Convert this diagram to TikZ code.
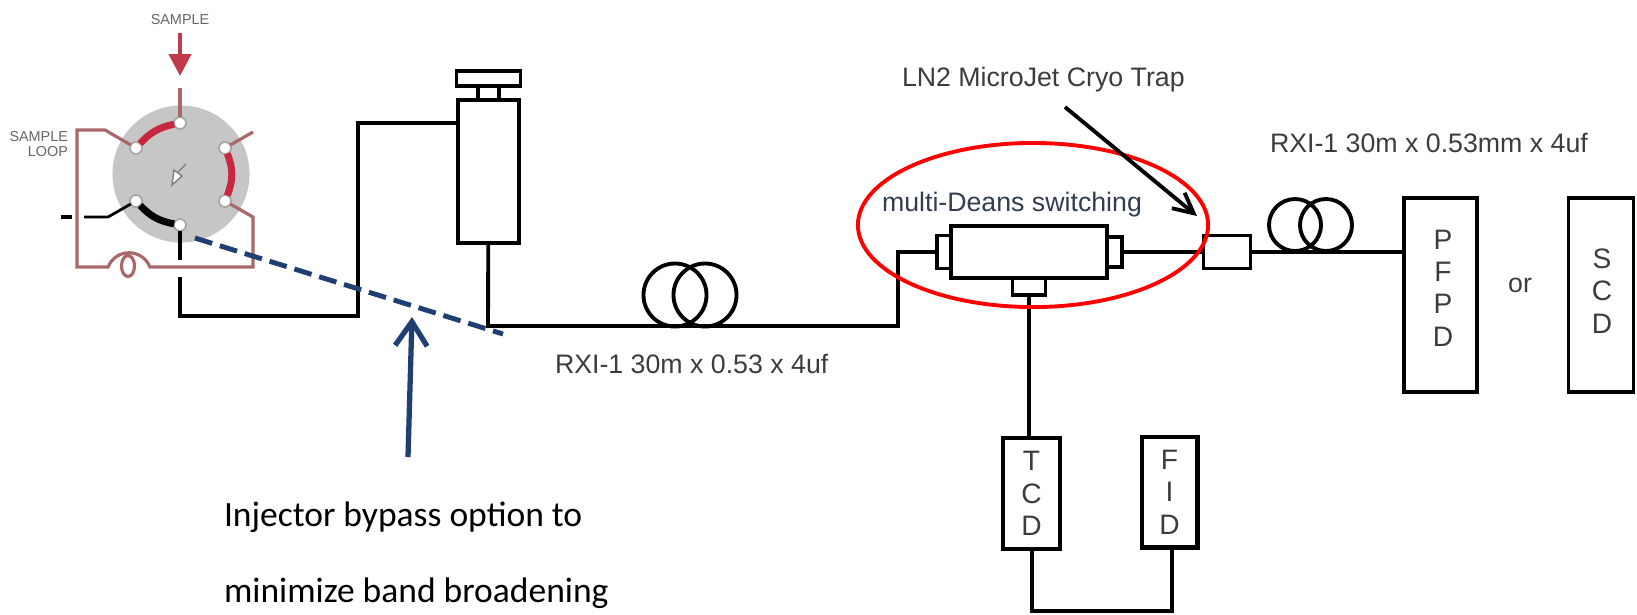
\documentclass[tikz,border=0pt]{standalone}
\usepackage{fontspec}
\setmainfont{Liberation Sans}
\newfontfamily\notefont{Carlito}
\usetikzlibrary{arrows.meta,positioning,shapes.geometric}
\definecolor{loopcolor}{HTML}{A9686A}
\definecolor{samplecolor}{HTML}{C8283F}
\definecolor{bypasscolor}{HTML}{1F3F73}
\definecolor{labelcolor}{HTML}{3C3C3C}
\begin{document}
\begin{tikzpicture}[
  x=0.01cm, y=-0.01cm,
  every node/.style={inner sep=0pt, outer sep=0pt},
  unitbox/.style={rectangle, draw=black, line width=1.1pt, fill=white, align=center},
  detector/.style={unitbox, text=labelcolor, font=\fontsize{8}{9.2}\selectfont},
  coilturn/.style={circle, draw=black, line width=1.1pt, minimum size=0.63cm},
  port/.style={circle, draw=gray!70, fill=white, line width=0.5pt, minimum size=0.12cm},
  label/.style={text=labelcolor, font=\fontsize{7.6}{9}\selectfont, anchor=west},
  tinylabel/.style={text=gray!80!black, font=\fontsize{4.1}{4.3}\selectfont},
  note/.style={font=\notefont\fontsize{10.1}{12}\selectfont, anchor=west},
  tube/.style={line width=1.1pt, black},
  looptube/.style={line width=0.9pt, loopcolor},
  rotor/.style={line width=2pt}
]
\useasboundingbox (0,0) rectangle (1637,614);
% valve
\node[circle, fill=gray!45, minimum size=1.37cm] (valve) at (181,174) {};
\draw[gray, fill=white, line width=0.4pt] (172,185) -- (182,176) -- (174,170) -- cycle;
\draw[gray, line width=0.4pt] (178,172) -- (186,164);
\node[port] (portT) at (180,123) {};
\node[port] (portUL) at (136,148) {};
\node[port] (portUR) at (225,148) {};
\node[port] (portLR) at (225,201) {};
\node[port] (portLL) at (136,201) {};
\node[port] (portB) at (180,225) {};
\draw[rotor, samplecolor] (portUL) to[bend left=18] (portT);
\draw[rotor, samplecolor] (portUR) to[bend left=22] (portLR);
\draw[rotor, black] (portLL) to[bend right=18] (portB);
\node[tinylabel] (sample) at (180,20) {SAMPLE};
\node[tinylabel, align=right, anchor=east] (sampleloop) at (68,144) {SAMPLE\\LOOP};
\coordinate (samplein) at (180,33);
\coordinate (sampletip) at (180,76);
\coordinate (sampleout) at (180,88);
\draw[-{Triangle[length=0.22cm,width=0.22cm]}, line width=1.2pt, samplecolor!70!loopcolor] (samplein) -- (sampletip);
\draw[looptube] (sampleout) -- (portT);
\coordinate (stub) at (253,132);
\draw[looptube] (portUR) -- (stub);
% sample loop
\coordinate (loopA) at (105,130);
\coordinate (loopB) at (77,130);
\coordinate (loopC) at (77,267);
\coordinate (loopD) at (108,267);
\coordinate (loopE) at (150,267);
\coordinate (loopF) at (253,267);
\coordinate (loopG) at (253,217);
\draw[looptube] (portUL) -- (loopA) -- (loopB) -- (loopC) -- (loopD)
  .. controls (116,248) and (142,248) .. (loopE) -- (loopF) -- (loopG) -- (portLR);
\node[ellipse, draw=loopcolor, line width=0.9pt, minimum width=0.13cm, minimum height=0.21cm] (loopcoil) at (128,266) {};
\coordinate (ventA) at (108,217);
\coordinate (ventB) at (84,217);
\coordinate (ventC) at (72,217);
\coordinate (ventD) at (61,217);
\draw[line width=0.8pt, black] (portLL) -- (ventA) -- (ventB);
\draw[tube] (ventC) -- (ventD);
% injector
\node[unitbox, minimum width=0.61cm, minimum height=1.43cm] (injector) at (488.5,171.5) {};
\node[unitbox, minimum width=0.21cm, minimum height=0.14cm, above=0cm of injector] (neck) {};
\node[unitbox, minimum width=0.64cm, minimum height=0.15cm, above=0cm of neck] (cap) {};
\coordinate (portBend) at (180,260);
\coordinate (bypassA) at (180,277);
\coordinate (bypassB) at (358,316);
\coordinate (bypassC) at (358,123);
\draw[tube] (portB) -- (portBend);
\draw[tube] (bypassA) |- (bypassB) -- (bypassC) -- (injector.west |- bypassC);
% first column
\node[coilturn] (coilA) at (675,295) {};
\node[coilturn] (coilB) at (705,295) {};
\node[unitbox, minimum width=1.56cm, minimum height=0.52cm] (switch) at (1029,252) {};
\node[unitbox, minimum width=0.14cm, minimum height=0.33cm, left=0cm of switch] (fitL) {};
\node[unitbox, minimum width=0.15cm, minimum height=0.30cm, right=0cm of switch] (fitR) {};
\node[unitbox, minimum width=0.33cm, minimum height=0.17cm, below=0cm of switch] (fitB) {};
\coordinate (colCorner) at (488,326);
\coordinate (colRise) at (898,252);
\draw[tube] (injector) -- (colCorner) -| (colRise) -- (fitL.west);
% trap and second column
\node[unitbox, minimum width=0.47cm, minimum height=0.33cm] (trap) at (1227,252) {};
\node[unitbox, minimum width=0.73cm, minimum height=1.94cm] (pfpd) at (1440.5,295) {};
\node[text=labelcolor, font=\fontsize{8}{9.2}\selectfont, align=center] (pfpdtext) at (1443,288) {P\\F\\P\\D};
\node[unitbox, minimum width=0.65cm, minimum height=1.94cm] (scd) at (1601,295) {};
\node[text=labelcolor, font=\fontsize{8}{9.2}\selectfont, align=center] (scdtext) at (1602,291) {S\\C\\D};
\node[coilturn, minimum size=0.52cm] (coilC) at (1295,225) {};
\node[coilturn, minimum size=0.52cm] (coilD) at (1326,225) {};
\draw[tube] (fitR) -- (trap);
\draw[tube] (trap) -- (pfpd.west |- trap);
\node[label, anchor=center] (orlabel) at (1520,285) {or};
% heart-cut detectors
\node[detector, minimum width=0.57cm, minimum height=1.11cm] (tcd) at (1031.5,493.5) {T\\C\\D};
\node[detector, line width=1.4pt, minimum width=0.55cm, minimum height=1.10cm] (fid) at (1169.5,492) {F\\I\\D};
\draw[tube] (fitB) -- (fitB |- tcd.north);
\coordinate (detBottom) at (1032,611);
\coordinate (fidFoot) at (1172,547);
\draw[tube] (tcd.south -| detBottom) -- (detBottom) -| (fidFoot);
% annotations
\node[draw=red, line width=1.1pt, ellipse, minimum width=3.5cm, minimum height=1.64cm] (cutzone) at (1033,225) {};
\node[label] (trapname) at (902,80) {LN2 MicroJet Cryo Trap};
\node[label, text=bypasscolor!35!labelcolor] (switchname) at (882,205) {multi-Deans switching};
\node[label] (colB) at (1270,143) {RXI-1 30m x 0.53mm x 4uf};
\node[label] (colA) at (555,364) {RXI-1 30m x 0.53 x 4uf};
\coordinate (trapstart) at (1065,107);
\coordinate (traptip) at (1197,216);
\draw[-{Straight Barb[length=0.2cm,width=0.2cm]}, tube] (trapstart) -- (traptip);
\coordinate (dashstart) at (195,238);
\coordinate (dashend) at (503,334);
\draw[bypasscolor, line width=1.4pt, dash pattern=on 0.18cm off 0.08cm] (dashstart) -- (dashend);
\coordinate (bypassfoot) at (408,457);
\coordinate (bypasstip) at (412,317);
\draw[-{Straight Barb[length=0.24cm,width=0.32cm]}, bypasscolor, line width=1.5pt] (bypassfoot) -- (bypasstip);
\node[note] (noteA) at (224,517) {Injector bypass option to};
\node[note] (noteB) at (224,593) {minimize band broadening};
\end{tikzpicture}
\end{document}
